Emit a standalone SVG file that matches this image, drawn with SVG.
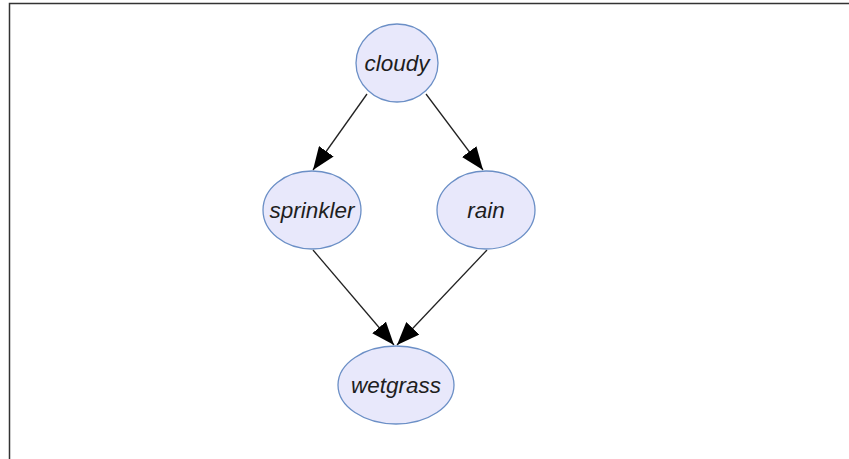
<svg xmlns="http://www.w3.org/2000/svg" width="849" height="459" viewBox="0 0 849 459">
  <style>
    .node ellipse { fill: #e8e8fb; stroke: #6b8fc6; stroke-width: 1.3; }
    .node text { font-family: "Liberation Sans", Arial, sans-serif; font-style: italic; font-size: 22.5px; fill: #1e1e1e; text-anchor: middle; dominant-baseline: central; }
    .edge { stroke: #222; stroke-width: 1.3; fill: none; marker-end: url(#arrow); }
  </style>
  <defs>
    <marker id="arrow" markerUnits="userSpaceOnUse" markerWidth="24" markerHeight="18" viewBox="0 0 24 18" refX="23" refY="9" orient="auto">
      <path d="M0,0 L23,9 L0,18 Z" fill="#000"/>
    </marker>
  </defs>
  <rect x="0" y="0" width="849" height="459" fill="#fff"/>
  <!-- frame: top and left edges -->
  <path d="M9.5,459 L9.5,3.5 L849,3.5" fill="none" stroke="#333" stroke-width="1.5"/>

  <g id="connectors">
    <line class="edge" x1="367" y1="94" x2="313" y2="170"/>
    <line class="edge" x1="426" y1="94" x2="483" y2="170"/>
    <line class="edge" x1="313" y1="250" x2="394" y2="345"/>
    <line class="edge" x1="487" y1="250" x2="397" y2="345"/>
  </g>

  <g id="cloudy" class="node">
    <ellipse cx="397" cy="63" rx="41" ry="39"/>
    <text x="397" y="63">cloudy</text>
  </g>
  <g id="sprinkler" class="node">
    <ellipse cx="312" cy="210" rx="49" ry="39"/>
    <text x="312" y="210">sprinkler</text>
  </g>
  <g id="rain" class="node">
    <ellipse cx="486" cy="210" rx="49" ry="39"/>
    <text x="486" y="210">rain</text>
  </g>
  <g id="wetgrass" class="node">
    <ellipse cx="396" cy="385" rx="58" ry="39"/>
    <text x="396" y="385">wetgrass</text>
  </g>
</svg>
